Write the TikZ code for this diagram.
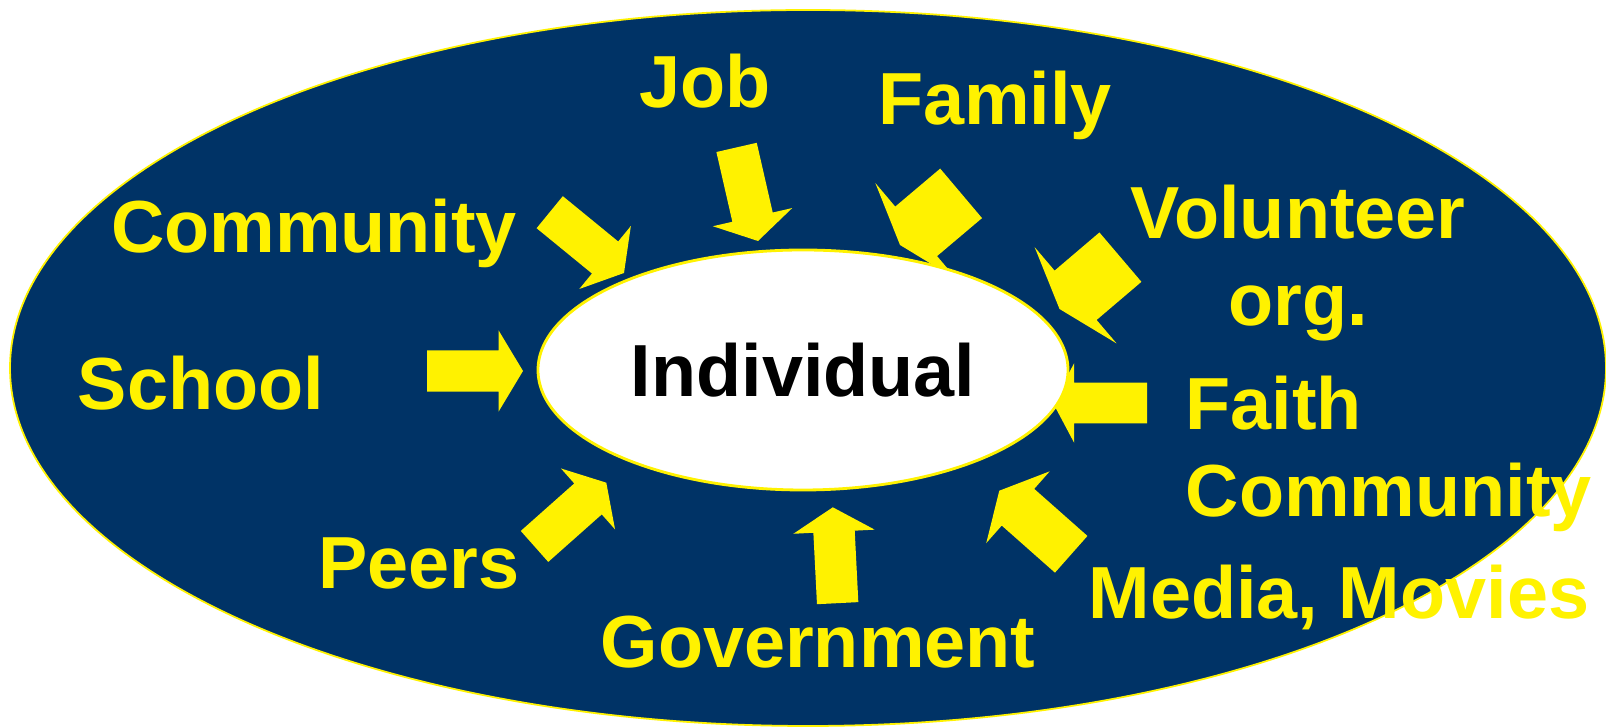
\documentclass[tikz,border=0pt]{standalone}
\usepackage{fontspec}
\setmainfont{Liberation Sans}
\usetikzlibrary{shapes.geometric,shapes.arrows}
\definecolor{society}{HTML}{003366}
\begin{document}
\begin{tikzpicture}[
    x=0.1mm, y=-0.1mm,
    sphere/.style={
        ellipse,
        inner sep=0pt,
        outer sep=0pt
    },
    influence/.style={
        single arrow,
        fill=yellow,
        draw=none,
        outer sep=0pt,
        inner xsep=0pt,
        inner ysep=2mm,
        single arrow head extend=2mm,
        single arrow tip angle=118,
        minimum width=0pt,
        minimum height=9.6mm,
        anchor=tip
    },
    wide influence/.style={
        influence,
        inner ysep=3.17mm,
        single arrow head extend=3.08mm,
        single arrow tip angle=143,
        minimum height=8mm
    },
    source/.style={
        text=yellow,
        font=\bfseries\fontsize{21}{25}\selectfont,
        inner sep=0pt,
        anchor=base
    }
]

\useasboundingbox (0,0) rectangle (1606,728);

% The world around
\node[sphere, fill=society, draw=yellow, line width=0.5pt,
      minimum width=159.6mm, minimum height=71.6mm] (world) at (808,368) {};

% Influences
\node[influence, rotate=0] (schoolarrow) at (523,371) {};
\node[influence, rotate=-39.3] (communityarrow) at (624,273) {};
\node[influence, rotate=-77.1] (jobarrow) at (758,241) {};
\node[wide influence, rotate=-139.8] (familyarrow) at (900,245) {};
\node[wide influence, rotate=-139.6] (volunteerarrow) at (1059.5,309) {};
\node[influence, rotate=180, inner ysep=1.97mm, single arrow head extend=1.95mm,
      single arrow tip angle=124, minimum height=9.4mm] (faitharrow) at (1053,403) {};
\node[influence, rotate=138.5, inner ysep=2.38mm, single arrow head extend=2.34mm,
      single arrow tip angle=125] (mediaarrow) at (999.3,490.7) {};
\node[influence, rotate=92.9] (governmentarrow) at (832.8,507.3) {};
\node[influence, rotate=41.6] (peersarrow) at (606.3,482.7) {};

% The individual
\node[sphere, fill=white, draw=yellow, line width=0.8pt,
      minimum width=53mm, minimum height=24mm,
      font=\bfseries\fontsize{21}{25}\selectfont] (individual) at (803,370) {Individual};

% Sources
\node[source] (job) at (705,107.5) {Job};
\node[source] (family) at (995,125) {Family};
\node[source] (community) at (314,253) {Community};
\node[source] (school) at (201,410) {School};
\node[source, align=center] (volunteer) at (1298,326) {Volunteer\\org.};
\node[source, align=left, anchor=base west] (faith) at (1185,517) {Faith\\Community};
\node[source] (media) at (1339,619) {Media, Movies};
\node[source] (peers) at (419,589) {Peers};
\node[source] (government) at (818,668) {Government};

\end{tikzpicture}
\end{document}
